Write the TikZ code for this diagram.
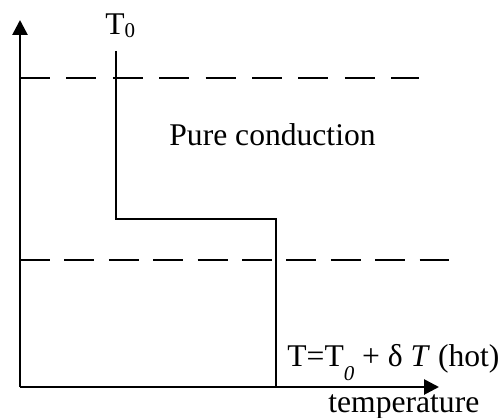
\documentclass[tikz,border=0pt]{standalone}
\usepackage{fontspec}
\setmainfont{Liberation Serif}
\usetikzlibrary{arrows.meta}

\tikzset{
  axisline/.style={line width=1.35pt, -{Triangle[length=7.5pt,width=7.5pt]}},
  profline/.style={line width=1pt},
  levelline/.style={line width=1pt, dash pattern=on 15pt off #1},
  levelline/.default=8.2pt,
  lbl/.style={inner sep=0pt, anchor=base west, font=\fontsize{15.8}{19}\selectfont}
}

\begin{document}
\begin{tikzpicture}[x=0.5pt, y=-0.5pt]
                    \useasboundingbox (0,0) rectangle (501,417);
                    % axes
                    \coordinate (orig) at (20,387);
                    \coordinate (ytop) at (20,20);
                    \coordinate (xend) at (439,387);
                    \draw[axisline] (orig) -- (ytop);
                    \draw[axisline] (orig) -- (xend);
                    % layer boundaries
                    \coordinate (upA) at (20,78);
                    \coordinate (upB) at (419,78);
                    \coordinate (loA) at (20,260);
                    \coordinate (loB) at (449,260);
                    \draw[levelline] (upA) -- (upB);
                    \draw[levelline=7.2pt] (loA) -- (loB);
                    % temperature profile
                    \coordinate (p1) at (116,51);
                    \coordinate (p2) at (116,219);
                    \coordinate (p3) at (276,219);
                    \coordinate (p4) at (276,387);
                    \draw[profline] (p1) -- (p2) -- (p3) -- (p4);
                    % labels
                    \node[lbl] (tzero) at (105,35) {T\raisebox{-1.5pt}{\fontsize{10.5}{12}\selectfont 0}};
                    \node[lbl] (pure) at (169,145) {Pure conduction};
                    \node[lbl] (thot) at (287,366) {T=T\raisebox{-7pt}{\fontsize{10.5}{12}\selectfont\itshape 0} + δ \textit{T} (hot)};
                    \node[lbl] (xlab) at (328,412) {temperature};
                \end{tikzpicture}
\end{document}
